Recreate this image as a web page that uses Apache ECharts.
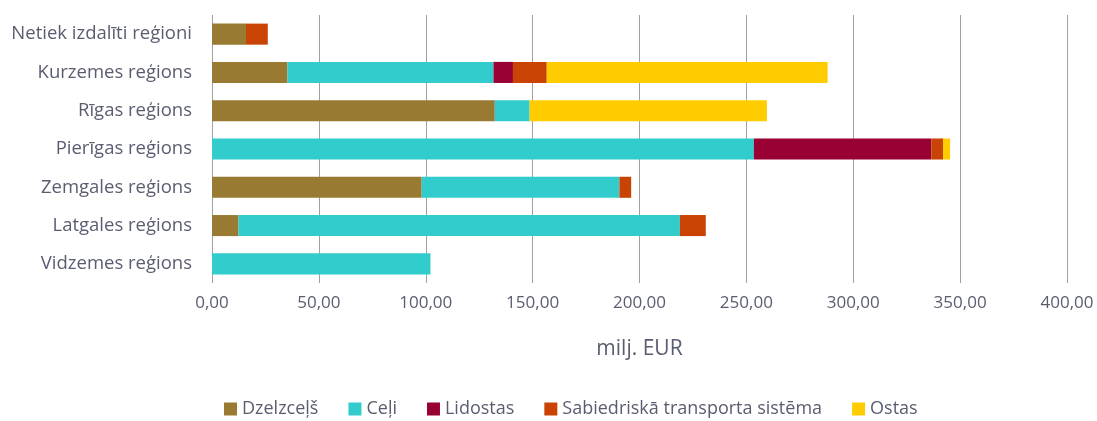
<!DOCTYPE html>
<html>
<head>
<meta charset="utf-8">
<script src="https://cdn.jsdelivr.net/npm/echarts@6/dist/echarts.min.js"></script>
<style>
  html, body { margin: 0; padding: 0; background: #fff; }
  #chart { width: 1097px; height: 421px; }
</style>
</head>
<body>
<div id="chart"></div>
<script>
// reģioni no augšas uz leju
const regions = ['Netiek izdalīti reģioni', 'Kurzemes reģions', 'Rīgas reģions', 'Pierīgas reģions',
  'Zemgales reģions', 'Latgales reģions', 'Vidzemes reģions']
const dzelzcels = [15.9, 35.3, 132.3, 0, 98.1, 12.4, 0]
const celi = [0, 96.4, 16.3, 253.5, 92.5, 206.5, 102.2]
const lidostas = [0, 9.1, 0, 83.0, 0, 0, 0]
const sabiedriskais = [10.2, 15.8, 0, 5.5, 5.5, 12.1, 0]
const ostas = [0, 131.4, 111.0, 3.3, 0, 0, 0]
const xTicks = [0, 400, 50] // min, max, interval

const textColor = '#5a5d70'
const font = 'Open Sans'

function bar(name, data, color) {
  return {
    name: name,
    type: 'bar',
    stack: 'total',
    data: data,
    barCategoryGap: '45%',
    itemStyle: { color: color },
  }
}

const chart = echarts.init(document.getElementById('chart'))
chart.setOption({
  animation: false,
  textStyle: { fontFamily: font, color: textColor },
  grid: { left: 212, right: 30, top: 15, bottom: 138, containLabel: false },
  legend: {
    bottom: -2,
    left: 219,
    itemWidth: 13,
    itemHeight: 13,
    itemGap: 30,
    icon: 'rect',
    textStyle: { fontFamily: font, color: textColor, fontSize: 18 },
  },
  xAxis: {
    type: 'value',
    min: xTicks[0],
    max: xTicks[1],
    interval: xTicks[2],
    name: 'milj. EUR',
    nameLocation: 'middle',
    nameGap: 56,
    nameTextStyle: { fontFamily: font, color: textColor, fontSize: 21 },
    axisLabel: {
      color: textColor,
      fontSize: 17,
      margin: 12,
      formatter: (v) => v.toFixed(2).replace('.', ','),
    },
    axisLine: { show: false },
    axisTick: { show: false },
    splitLine: { show: true, lineStyle: { color: '#a0a0a0', width: 1 } },
  },
  yAxis: {
    type: 'category',
    data: regions,
    inverse: true,
    axisLabel: { color: textColor, fontSize: 18.5, margin: 20 },
    axisLine: { show: false },
    axisTick: { show: false },
  },
  series: [
    bar('Dzelzceļš', dzelzcels, '#997a33'),
    bar('Ceļi', celi, '#33cccc'),
    bar('Lidostas', lidostas, '#990033'),
    bar('Sabiedriskā transporta sistēma', sabiedriskais, '#c84304'),
    bar('Ostas', ostas, '#ffcc00'),
  ],
})
</script>
</body>
</html>
